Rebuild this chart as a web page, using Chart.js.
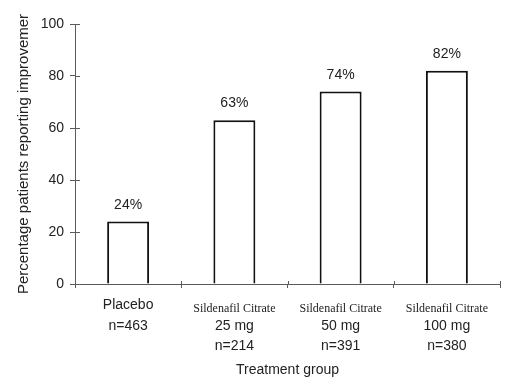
<!DOCTYPE html>
<html>
<head>
<meta charset="utf-8">
<script src="https://cdn.jsdelivr.net/npm/chart.js@4/dist/chart.umd.min.js"></script>
<style>
html,body{margin:0;padding:0;background:#fff;}
#wrap{width:524px;height:383px;position:relative;}
</style>
</head>
<body>
<div id="wrap"><canvas id="c" width="524" height="383"></canvas></div>
<script>
const groups = ["Placebo", "Sildenafil Citrate", "Sildenafil Citrate", "Sildenafil Citrate"];
const doses = ["", "25 mg", "50 mg", "100 mg"];
const sampleSizes = ["n=463", "n=214", "n=391", "n=380"];
const improvementPct = [24, 63, 74, 82];
const yTicks = [0, 20, 40, 60, 80, 100];
const yTitle = "Percentage patients reporting improvemer";
const xTitle = "Treatment group";

const SANS = "'Liberation Sans', Arial, sans-serif";
const SERIF = "'Liberation Serif', 'Times New Roman', serif";
const TEXT = '#222222';
const AXIS = '#5a5a5a';

const tickLabels = groups.map((g, i) => i === 0 ? [g, sampleSizes[i]] : [' ', doses[i], sampleSizes[i]]);

const extras = {
  id: 'extras',
  afterDatasetsDraw(chart) {
    const ctx = chart.ctx;
    const meta = chart.getDatasetMeta(0);
    ctx.save();
    ctx.fillStyle = TEXT;
    ctx.font = '14px ' + SANS;
    ctx.textAlign = 'center';
    ctx.textBaseline = 'alphabetic';
    meta.data.forEach((bar, i) => {
      ctx.fillText(improvementPct[i] + '%', bar.x, bar.y - 13);
    });
    ctx.restore();
  },
  afterDraw(chart) {
    const ctx = chart.ctx;
    const xs = chart.scales.x, ys = chart.scales.y;
    ctx.save();
    ctx.strokeStyle = AXIS;
    ctx.lineWidth = 1;
    yTicks.forEach(v => {
      const y = Math.round(ys.getPixelForValue(v)) + 0.5;
      ctx.beginPath(); ctx.moveTo(xs.left, y); ctx.lineTo(xs.left + 5, y); ctx.stroke();
    });
    const n = groups.length;
    for (let i = 1; i <= n; i++) {
      const x = Math.round(xs.left + i * (xs.right - xs.left) / n) + 0.5;
      ctx.beginPath(); ctx.moveTo(x, ys.bottom); ctx.lineTo(x, ys.bottom - 3); ctx.stroke();
    }
    ctx.fillStyle = TEXT;
    ctx.font = '12px ' + SERIF;
    ctx.textAlign = 'center';
    ctx.textBaseline = 'middle';
    groups.forEach((g, i) => {
      if (i === 0) return;
      ctx.fillText(g, xs.getPixelForValue(i), ys.bottom + 25);
    });
    ctx.restore();
  }
};

new Chart(document.getElementById('c'), {
  type: 'bar',
  data: {
    labels: tickLabels,
    datasets: [{
      data: improvementPct,
      backgroundColor: '#ffffff',
      borderColor: '#111111',
      borderWidth: 2,
      categoryPercentage: 0.79,
      barPercentage: 0.5
    }]
  },
  options: {
    responsive: false,
    animation: false,
    devicePixelRatio: 1,
    layout: { padding: { top: 24, right: 24, bottom: 0, left: 0 } },
    plugins: { legend: { display: false }, tooltip: { enabled: false } },
    scales: {
      x: {
        grid: { drawOnChartArea: false, drawTicks: true, tickLength: 4, color: AXIS, offset: true },
        border: { display: true, color: AXIS, width: 1 },
        ticks: { color: TEXT, font: { family: SANS, size: 14, lineHeight: '20.5px' }, padding: 7, maxRotation: 0, autoSkip: false },
        title: { display: true, text: xTitle, color: TEXT, font: { family: SANS, size: 14 }, padding: { top: 0, bottom: 4 } },
        afterFit(s) { s.height = 99; }
      },
      y: {
        min: 0, max: 100,
        afterBuildTicks(s) { s.ticks = yTicks.map(v => ({ value: v })); },
        grid: { drawOnChartArea: false, drawTicks: true, tickLength: 5, color: AXIS },
        border: { display: true, color: AXIS, width: 1 },
        ticks: { color: TEXT, font: { family: SANS, size: 14 }, padding: 6 },
        title: { display: true, text: yTitle, color: TEXT, font: { family: SANS, size: 15 }, padding: { top: 15, bottom: 0 } },
        afterFit(s) { s.width = 75; }
      }
    }
  },
  plugins: [extras]
});
</script>
</body>
</html>
